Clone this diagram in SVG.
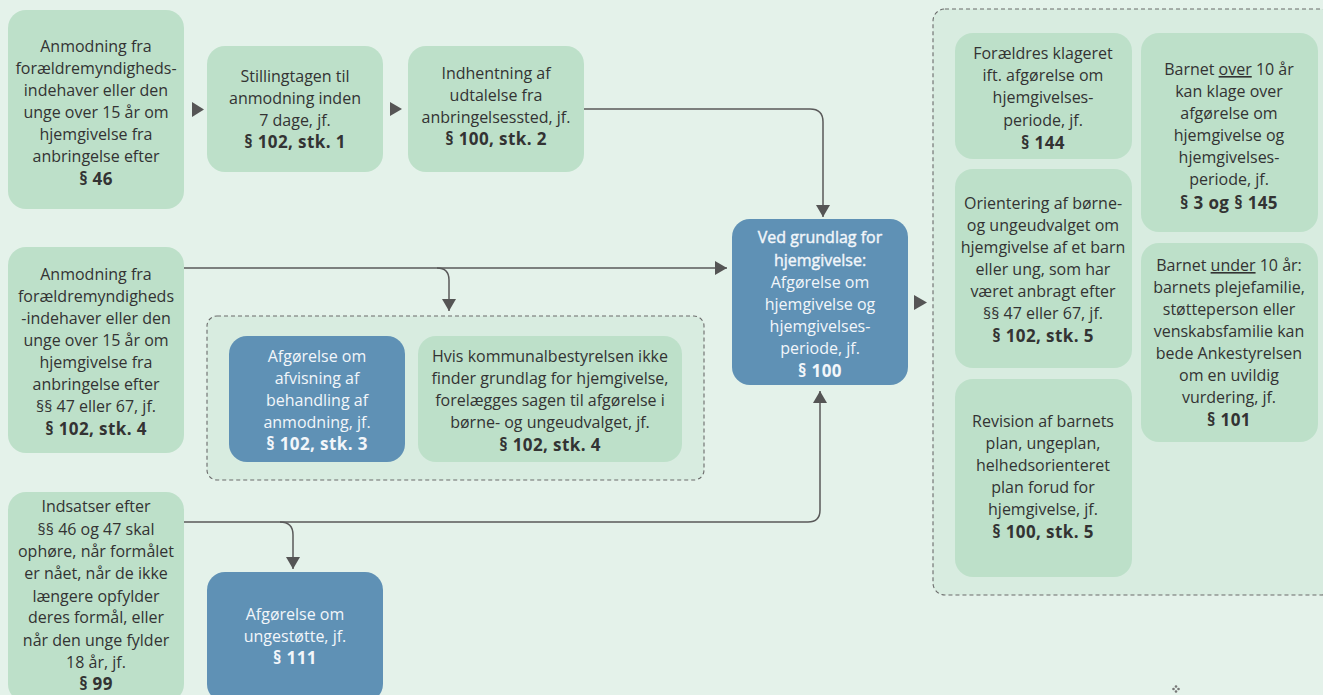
<svg xmlns="http://www.w3.org/2000/svg" width="1323" height="695" viewBox="0 0 1323 695">
<defs>
<style>
.bg{fill:#E4F2EA}
.grp{fill:#D8ECE0;stroke:#6b6b6b;stroke-width:1.1;stroke-dasharray:4 3}
.g{fill:#BDE0C9}
.b{fill:#5F91B5}
text{font-family:"Open Sans","Noto Sans","DejaVu Sans",sans-serif;font-size:16px;text-anchor:middle}
.t{fill:#333}
.w{fill:#F2F6FA}
.k{font-weight:bold;font-size:17px;letter-spacing:0.4px}
.s{stroke:#F2F6FA;stroke-width:0.4}
.c{fill:none;stroke:#5a5a5a;stroke-width:1.5}
.tri{fill:#555}
</style>
<marker id="ah" markerUnits="userSpaceOnUse" markerWidth="14" markerHeight="14" refX="12" refY="7" orient="auto">
<path d="M0,0 L12,7 L0,14 z" fill="#555"/>
</marker>
</defs>
<rect class="bg" x="0" y="0" width="1323" height="695"/>

<g id="group-middle"><rect class="grp" x="207" y="316" width="497" height="164" rx="10"/></g>
<g id="group-right"><rect class="grp" x="933" y="9" width="400" height="586" rx="12"/></g>

<g id="connectors">
<path class="c" d="M576,109 H810 Q823,109 823,122 V217" marker-end="url(#ah)"/>
<circle cx="576" cy="109" r="2.5" fill="#555"/>
<path class="c" d="M167,268 H727" marker-end="url(#ah)"/>
<path class="c" d="M437,268 Q449,268 449,280 V311" marker-end="url(#ah)"/>
<circle cx="167" cy="268" r="2.5" fill="#555"/>
<path class="c" d="M176,522 H808 Q820,522 820,510 V391" marker-end="url(#ah)"/>
<path class="c" d="M280,522 Q293,522 293,535 V569" marker-end="url(#ah)"/>
<circle cx="176" cy="522" r="2.5" fill="#555"/>
<polygon class="tri" points="192,102 204,109.5 192,117"/>
<polygon class="tri" points="390,102 402,109 390,116"/>
<polygon class="tri" points="914,295 927,302.5 914,310"/>
</g>

<g id="node-a">
<rect class="g" x="8" y="10" width="176" height="199" rx="18"/>
<text class="t" x="96" y="52">Anmodning fra</text>
<text class="t" x="96" y="74">forældremyndigheds-</text>
<text class="t" x="96" y="96">indehaver eller den</text>
<text class="t" x="96" y="118">unge over 15 år om</text>
<text class="t" x="96" y="140">hjemgivelse fra</text>
<text class="t" x="96" y="162">anbringelse efter</text>
<text class="t k" x="96" y="185">§ 46</text>
</g>

<g id="node-b">
<rect class="g" x="207" y="46" width="176" height="126" rx="18"/>
<text class="t" x="295" y="82">Stillingtagen til</text>
<text class="t" x="295" y="104">anmodning inden</text>
<text class="t" x="295" y="126">7 dage, jf.</text>
<text class="t k" x="295" y="148">§ 102, stk. 1</text>
</g>

<g id="node-c">
<rect class="g" x="408" y="46" width="176" height="126" rx="18"/>
<text class="t" x="496" y="79">Indhentning af</text>
<text class="t" x="496" y="101">udtalelse fra</text>
<text class="t" x="496" y="123">anbringelsessted, jf.</text>
<text class="t k" x="496" y="145">§ 100, stk. 2</text>
</g>

<g id="node-d">
<rect class="b" x="732" y="219" width="176" height="166" rx="18"/>
<text class="w s" x="820" y="243">Ved grundlag for</text>
<text class="w s" x="820" y="266">hjemgivelse:</text>
<text class="w" x="820" y="288">Afgørelse om</text>
<text class="w" x="820" y="310">hjemgivelse og</text>
<text class="w" x="820" y="332">hjemgivelses-</text>
<text class="w" x="820" y="354">periode, jf.</text>
<text class="w k" x="820" y="377">§ 100</text>
</g>

<g id="node-f">
<rect class="g" x="8" y="247" width="176" height="206" rx="18"/>
<text class="t" x="96" y="280">Anmodning fra</text>
<text class="t" x="96" y="302">forældremyndigheds</text>
<text class="t" x="96" y="324">-indehaver eller den</text>
<text class="t" x="96" y="346">unge over 15 år om</text>
<text class="t" x="96" y="368">hjemgivelse fra</text>
<text class="t" x="96" y="390">anbringelse efter</text>
<text class="t" x="96" y="412">§§ 47 eller 67, jf.</text>
<text class="t k" x="96" y="435">§ 102, stk. 4</text>
</g>

<g id="node-h">
<rect class="b" x="229" y="336" width="176" height="126" rx="18"/>
<text class="w" x="317" y="362">Afgørelse om</text>
<text class="w" x="317" y="384">afvisning af</text>
<text class="w" x="317" y="406">behandling af</text>
<text class="w" x="317" y="428">anmodning, jf.</text>
<text class="w k" x="317" y="450">§ 102, stk. 3</text>
</g>

<g id="node-i">
<rect class="g" x="418" y="336" width="264" height="126" rx="18"/>
<text class="t" x="550" y="362">Hvis kommunalbestyrelsen ikke</text>
<text class="t" x="550" y="384">finder grundlag for hjemgivelse,</text>
<text class="t" x="550" y="406">forelægges sagen til afgørelse i</text>
<text class="t" x="550" y="428">børne- og ungeudvalget, jf.</text>
<text class="t k" x="550" y="451">§ 102, stk. 4</text>
</g>

<g id="node-j">
<rect class="g" x="8" y="492" width="176" height="210" rx="18"/>
<text class="t" x="96" y="512">Indsatser efter</text>
<text class="t" x="96" y="535">§§ 46 og 47 skal</text>
<text class="t" x="96" y="557">ophøre, når formålet</text>
<text class="t" x="96" y="579">er nået, når de ikke</text>
<text class="t" x="96" y="602">længere opfylder</text>
<text class="t" x="96" y="623">deres formål, eller</text>
<text class="t" x="96" y="646">når den unge fylder</text>
<text class="t" x="96" y="668">18 år, jf.</text>
<text class="t k" x="96" y="690">§ 99</text>
</g>

<g id="node-e">
<rect class="b" x="207" y="572" width="176" height="130" rx="18"/>
<text class="w" x="295" y="620">Afgørelse om</text>
<text class="w" x="295" y="642">ungestøtte, jf.</text>
<text class="w k" x="295" y="664">§ 111</text>
</g>

<g id="node-l">
<rect class="g" x="955" y="33" width="177" height="126" rx="18"/>
<text class="t" x="1043" y="59">Forældres klageret</text>
<text class="t" x="1043" y="81">ift. afgørelse om</text>
<text class="t" x="1043" y="103">hjemgivelses-</text>
<text class="t" x="1043" y="126">periode, jf.</text>
<text class="t k" x="1043" y="149">§ 144</text>
</g>

<g id="node-m">
<rect class="g" x="955" y="169" width="177" height="199" rx="18"/>
<text class="t" x="1043" y="209">Orientering af børne-</text>
<text class="t" x="1043" y="231">og ungeudvalget om</text>
<text class="t" x="1043" y="253">hjemgivelse af et barn</text>
<text class="t" x="1043" y="275">eller ung, som har</text>
<text class="t" x="1043" y="297">været anbragt efter</text>
<text class="t" x="1043" y="319">§§ 47 eller 67, jf.</text>
<text class="t k" x="1043" y="342">§ 102, stk. 5</text>
</g>

<g id="node-n">
<rect class="g" x="955" y="379" width="177" height="198" rx="18"/>
<text class="t" x="1043" y="427">Revision af barnets</text>
<text class="t" x="1043" y="449">plan, ungeplan,</text>
<text class="t" x="1043" y="471">helhedsorienteret</text>
<text class="t" x="1043" y="493">plan forud for</text>
<text class="t" x="1043" y="515">hjemgivelse, jf.</text>
<text class="t k" x="1043" y="538">§ 100, stk. 5</text>
</g>

<g id="node-o">
<rect class="g" x="1141" y="33" width="177" height="199" rx="18"/>
<text class="t" x="1229" y="75">Barnet <tspan text-decoration="underline">over</tspan> 10 år</text>
<text class="t" x="1229" y="97">kan klage over</text>
<text class="t" x="1229" y="119">afgørelse om</text>
<text class="t" x="1229" y="141">hjemgivelse og</text>
<text class="t" x="1229" y="163">hjemgivelses-</text>
<text class="t" x="1229" y="185">periode, jf.</text>
<text class="t k" x="1229" y="209">§ 3 og § 145</text>
</g>

<g id="node-p">
<rect class="g" x="1141" y="243" width="177" height="199" rx="18"/>
<text class="t" x="1229" y="271">Barnet <tspan text-decoration="underline">under</tspan> 10 år:</text>
<text class="t" x="1229" y="293">barnets plejefamilie,</text>
<text class="t" x="1229" y="315">støtteperson eller</text>
<text class="t" x="1229" y="337">venskabsfamilie kan</text>
<text class="t" x="1229" y="359">bede Ankestyrelsen</text>
<text class="t" x="1229" y="381">om en uvildig</text>
<text class="t" x="1229" y="403">vurdering, jf.</text>
<text class="t k" x="1229" y="426">§ 101</text>
</g>

<g id="mark" fill="#777">
<circle cx="1176" cy="686.5" r="1.3"/>
<circle cx="1173.5" cy="689" r="1.3"/>
<circle cx="1178.5" cy="689" r="1.3"/>
<circle cx="1176" cy="691.5" r="1.3"/>
</g>
</svg>
